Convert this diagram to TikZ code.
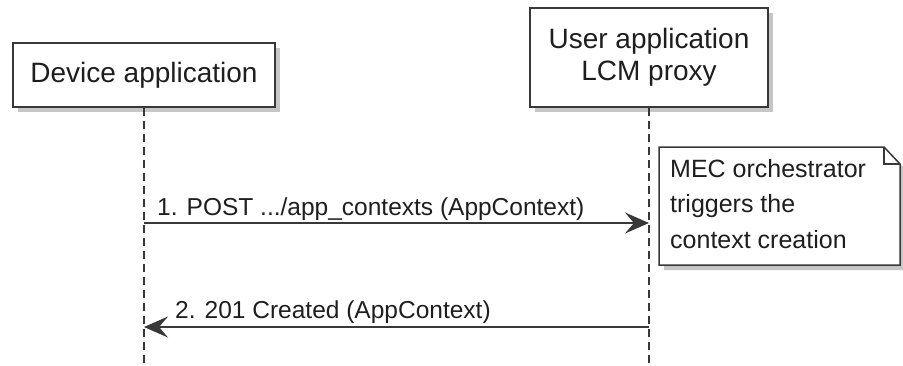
\documentclass[tikz,border=0pt]{standalone}
\usepackage{fontspec}
\setmainfont{Liberation Sans}
\usetikzlibrary{arrows.meta,shadows}

\definecolor{linegray}{HTML}{383838}
\definecolor{textgray}{HTML}{1E1E1E}

\tikzset{
	actorbox/.style={draw=linegray, line width=1.8pt, fill=white, align=center,
		text=textgray, font=\fontsize{28}{32}\selectfont,
		drop shadow={opacity=0.45, shadow xshift=5pt, shadow yshift=-5pt}},
	lifeline/.style={draw=linegray, line width=1.3pt, dash pattern=on 8pt off 5pt},
	msg/.style={draw=linegray, line width=1.6pt, -{Stealth[length=24pt, width=21pt, inset=9pt]}},
	msglabel/.style={anchor=base west, inner sep=0pt, text=textgray,
		font=\fontsize{24.5}{28}\selectfont},
}

\begin{document}
\begin{tikzpicture}[x=1pt, y=-1pt]
	\useasboundingbox (0,0) rectangle (903,365);

	% participants
	\node[actorbox, minimum width=262pt, minimum height=64pt] (device) at (144,75) {Device application};
	\node[actorbox, minimum width=238pt, minimum height=99pt] (proxy) at (649,57.5) {User application\\LCM proxy};

	% lifelines
	\coordinate (deviceend) at (144,365);
	\coordinate (proxyend) at (649,365);
	\draw[lifeline] (device.south) -- (deviceend);
	\draw[lifeline] (proxy.south) -- (proxyend);

	% note
	\coordinate (nw) at (659,147);
	\coordinate (ne) at (884,147);
	\coordinate (fold) at (900,164);
	\coordinate (se) at (900,265);
	\coordinate (sw) at (659,265);
	\filldraw[draw=linegray, fill=white, line width=1.5pt, line join=miter,
		drop shadow={opacity=0.45, shadow xshift=5pt, shadow yshift=-5pt}]
		(nw) -- (ne) -- (fold) -- (se) -- (sw) -- cycle;
	\draw[linegray, line width=1.5pt] (ne) -- (ne |- fold) -- (fold);
	\node[anchor=base west, inner sep=0pt, align=left, text=textgray,
		font=\fontsize{25}{35.5}\selectfont] (notetext) at (670,248)
		{MEC orchestrator\\triggers the\\context creation};

	% messages
	\coordinate (req) at (144,223);
	\coordinate (reqend) at (649,223);
	\draw[msg] (req) -- (reqend);
	\node[msglabel] (reqlabel) at (157,215) {1. POST .../app\_contexts (AppContext)};

	\coordinate (resp) at (649,327);
	\coordinate (respend) at (144,327);
	\draw[msg] (resp) -- (respend);
	\node[msglabel] (resplabel) at (175,318) {2. 201 Created (AppContext)};
\end{tikzpicture}
\end{document}
